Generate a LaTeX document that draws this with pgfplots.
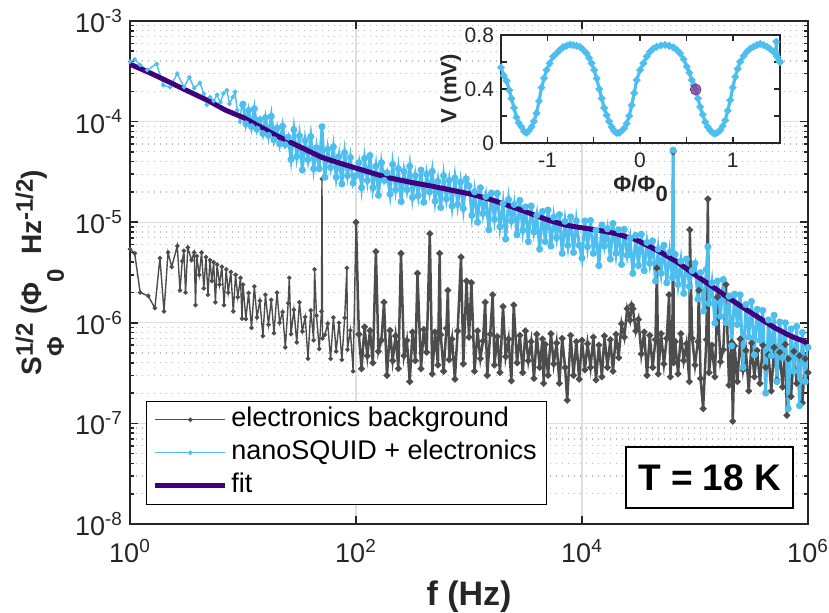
\documentclass[border=0pt]{standalone}
\usepackage{pgfplots}
\pgfplotsset{compat=1.18}
\usepackage{fontspec}
\setmainfont{Liberation Sans}

\definecolor{bggray}{RGB}{77,77,77}
\definecolor{sqblue}{RGB}{77,190,238}
\definecolor{fitpurple}{RGB}{63,0,125}
\definecolor{dotpurple}{RGB}{126,47,142}
\definecolor{axgray}{RGB}{38,38,38}
\definecolor{gridgray}{RGB}{222,222,222}

\begin{document}
\begin{tikzpicture}
\begin{axis}[
    at={(0,0)}, anchor=south west,
    scale only axis, width=339pt, height=251.5pt,
    xmode=log, ymode=log,
    xmin=1, xmax=1e6, ymin=1e-8, ymax=1e-3,
    xtick={1,100,10000,1000000},
    xticklabels={10\textsuperscript{0},10\textsuperscript{2},10\textsuperscript{4},10\textsuperscript{6}},
    minor xtick={},
    ytick={1e-8,1e-7,1e-6,1e-5,1e-4,1e-3},
    yticklabels={10\textsuperscript{-8},10\textsuperscript{-7},10\textsuperscript{-6},10\textsuperscript{-5},10\textsuperscript{-4},10\textsuperscript{-3}},
    minor ytick={2e-8,3e-8,4e-8,5e-8,6e-8,7e-8,8e-8,9e-8,
                 2e-7,3e-7,4e-7,5e-7,6e-7,7e-7,8e-7,9e-7,
                 2e-6,3e-6,4e-6,5e-6,6e-6,7e-6,8e-6,9e-6,
                 2e-5,3e-5,4e-5,5e-5,6e-5,7e-5,8e-5,9e-5,
                 2e-4,3e-4,4e-4,5e-4,6e-4,7e-4,8e-4,9e-4},
    xmajorgrids, ymajorgrids, yminorgrids,
    major grid style={gridgray, line width=0.6pt},
    minor grid style={gray!55, line width=0.6pt, dash pattern=on 0.6pt off 2.4pt},
    axis line style={axgray, line width=0.9pt},
    tick style={axgray, line width=0.8pt},
    major tick length=4pt, minor tick length=2pt,
    tick align=inside,
    tick label style={font=\fontsize{13.5}{15}\selectfont, text=axgray},
    xticklabel style={yshift=-4pt},
    label style={font=\bfseries, text=axgray},
    xlabel={\fontsize{17}{19}\selectfont f (Hz)},
    xlabel style={at={(axis description cs:0.5,-0.163)}, anchor=base},
    ylabel={\fontsize{14}{16}\selectfont S\rlap{\raisebox{4.5pt}{\fontsize{12}{12}\selectfont 1/2}}\raisebox{-11pt}{\fontsize{12}{12}\selectfont\makebox[16.5pt][l]{Φ}}\hspace{4.5pt}(Φ\raisebox{-11pt}{\fontsize{12}{12}\selectfont 0}\hspace{7pt}Hz\raisebox{4.5pt}{\fontsize{12}{12}\selectfont -1/2})},
    ylabel style={at={(axis description cs:-0.1298,0.5)}, anchor=base},
    legend image code/.code={\draw[mark repeat=2,mark phase=2,#1] plot coordinates {(0pt,0pt) (17.5pt,0pt) (35pt,0pt)};},
    legend style={at={(rel axis cs:0.024,0.038)}, anchor=south west,
        draw=black, line width=0.6pt, fill=white,
        font=\fontsize{13.5}{15}\selectfont,
        inner xsep=3pt, inner ysep=1pt,
        nodes={inner sep=1.75pt, text height=10pt, text depth=3pt}},
    legend cell align=left,
]
% electronics background, 1 - 100 Hz
\addplot[color=bggray, line width=0.7pt, mark=*, mark size=0.75pt] coordinates {
(1.0,5.4e-6)(1.1,4.9e-6)(1.23,2.0e-6)(1.45,1.85e-6)(1.66,1.4e-6)(1.84,4.4e-6)(2.0,1.3e-6)(2.17,5.0e-6)
(2.34,3.6e-6)(2.62,5.8e-6)(2.77,2.1e-6)(2.9,4.1e-6)(3.0,5.2e-6)(3.1,2.0e-6)(3.25,5.6e-6)(3.5,4.2e-6)
(3.7,5.0e-6)(3.8,1.5e-6)(3.9,4.6e-6)(4.1,3.0e-6)(4.3,5.0e-6)(4.5,2.2e-6)(4.7,4.5e-6)(4.9,1.9e-6)
(5.1,4.2e-6)(5.3,2.6e-6)(5.5,4.0e-6)(5.7,1.6e-6)(5.9,3.8e-6)(6.2,2.4e-6)(6.5,3.6e-6)(6.8,1.5e-6)
(7.1,3.4e-6)(7.4,2.0e-6)(7.8,3.2e-6)(8.2,1.3e-6)(8.6,3.0e-6)(9.0,1.8e-6)(9.5,2.8e-6)(9.8,1.1e-6)
(10.0,2.4e-6)(10.6,1.09e-6)(11.2,1.98e-6)(11.9,8.9e-7)(12.6,2.3e-6)(13.3,1.13e-6)(14.1,1.66e-6)(15.0,7.4e-7)
(15.8,1.9e-6)(16.8,9.6e-7)(17.8,1.69e-6)(18.8,7.9e-7)(20.0,2.0e-6)(21.1,1.0e-6)(22.4,1.28e-6)(23.7,5.7e-7)
(25.1,1.57e-6)(25.7,2.8e-6)(26.6,7.7e-7)(28.2,1.35e-6)(29.9,6.4e-7)(31.6,1.6e-6)(33.5,8.2e-7)(35.5,1.14e-6)
(37.6,4.4e-7)(39.8,1.33e-6)(42.2,6.7e-7)(43.0,3.4e-6)(44.7,1.18e-6)(47.3,5.5e-7)(49.5,1.3e-6)(50.0,2.7e-5)
(50.6,7.0e-7)(53.1,7.6e-7)(56.2,9.8e-7)(59.6,4.4e-7)(63.1,1.13e-6)(66.8,5.2e-7)(70.8,1.0e-6)(75.0,4.3e-7)
(79.4,1.12e-6)(83.0,3.5e-6)(84.1,5.4e-7)(89.1,8.4e-7)(94.4,3.3e-7)(100,1.0e-5)
};
\addlegendentry{electronics background}
% electronics background, 100 Hz - 1 MHz (dense part)
\addplot[forget plot, color=bggray, line width=1.25pt, mark=*, mark size=0.95pt] coordinates {
(100,1.0e-5)(106,7.7e-7)(112,3.5e-7)
(119,9.1e-7)(126,4.7e-7)(133,8.4e-7)(141,4.0e-7)(150,5.1e-6)(158,5.2e-7)(168,6.7e-7)(177,1.6e-6)
(188,3.0e-7)(200,8.4e-7)(211,4.2e-7)(224,7.4e-7)(237,3.5e-7)(250,4.9e-6)(266,4.7e-7)(282,6.7e-7)
(299,2.6e-7)(316,8.1e-7)(335,4.2e-7)(350,3.1e-6)(376,3.5e-7)(398,8.6e-7)(422,5.1e-7)(450,7.7e-6)
(473,3.1e-7)(501,8.1e-7)(531,3.8e-7)(550,4.9e-6)(562,7.6e-7)(596,3.3e-7)(631,8.8e-7)(650,2.1e-6)
(668,4.3e-7)(708,6.9e-7)(750,2.75e-7)(794,8.3e-7)(850,4.5e-6)(891,3.9e-7)(950,2.6e-6)(1000,7.2e-7)
(1050,2.5e-6)(1120,3.3e-7)(1190,8.3e-7)(1260,4.4e-7)(1330,6.6e-7)(1390,1.6e-6)(1450,3.0e-7)(1540,7.7e-7)
(1620,1.9e-6)(1680,3.8e-7)(1780,7.3e-7)(1880,3.2e-7)(2000,1.45e-6)(2110,4.6e-7)(2240,6.9e-7)(2370,2.65e-7)
(2490,1.5e-6)(2660,4.0e-7)(2820,7.5e-7)(2990,3.2e-7)(3160,8.3e-7)(3350,4.2e-7)(3550,6.5e-7)(3760,2.8e-7)
(3980,7.7e-7)(4220,3.6e-7)(4470,6.9e-7)(4580,2.5e-7)(4730,6.1e-7)(5010,3.0e-7)(5310,7.8e-7)(5620,3.9e-7)
(5960,6.3e-7)(6310,2.5e-7)(6680,7.0e-7)(7080,3.6e-7)(7400,1.7e-7)(7940,7.5e-7)(8410,3.0e-7)(8910,6.5e-7)
(9440,2.75e-7)(10000,6.7e-7)(10600,3.4e-7)(11200,6.2e-7)(11900,3.6e-7)(12600,7.2e-7)(13300,2.7e-7)(14100,6.0e-7)
(15000,2.9e-7)(15800,7.4e-7)(16800,3.6e-7)(17800,6.8e-7)(18800,3.3e-7)(20000,7.7e-7)(21100,4.5e-7)(22400,9.8e-7)
(23700,7.2e-7)(25100,1.38e-6)(26600,1.06e-6)(27500,1.5e-6)(28200,1.38e-6)(29900,8.3e-7)(31600,1.08e-6)(33500,4.9e-7)
(35500,8.1e-7)(37600,3.0e-7)(39800,7.5e-7)(42200,3.6e-7)(44700,6.8e-7)(46000,3.5e-6)(47300,3.1e-7)(50100,7.8e-7)
(53100,3.9e-7)(56200,7.0e-7)(59000,1.9e-6)(60500,2.9e-7)(63100,6.8e-7)(64000,5.0e-5)(64800,4.0e-7)(66800,6.5e-7)
(70800,3.1e-7)(75000,7.8e-7)(79400,4.2e-7)(84100,6.2e-7)(89100,2.6e-7)(90000,8.4e-6)(94400,7.0e-7)(100000,3.8e-7)
(106000,6.5e-7)(108000,2.1e-6)(112000,2.8e-7)(118000,1.4e-7)(126000,6.8e-7)(130000,1.7e-5)(133000,3.2e-7)(141000,6.0e-7)
(150000,2.9e-7)(158000,1.8e-6)(168000,4.1e-7)(178000,5.4e-7)(188000,2.4e-6)(200000,2.4e-7)(211000,6.4e-7)(216000,1.05e-7)
(224000,5.9e-7)(237000,2.6e-7)(251000,6.9e-7)(266000,3.4e-7)(282000,5.3e-7)(299000,2.1e-7)(316000,6.3e-7)(335000,2.9e-7)
(355000,5.3e-7)(376000,2.5e-7)(398000,6.0e-7)(422000,3.6e-7)(447000,4.8e-7)(473000,2.1e-7)(501000,5.7e-7)(531000,2.7e-7)
(562000,5.1e-7)(596000,2.3e-7)(631000,6.1e-7)(650000,1.2e-7)(668000,4.4e-7)(708000,1.85e-7)(750000,5.2e-7)(794000,2.5e-7)
(841000,4.7e-7)(891000,1.6e-7)(944000,4.4e-7)(1000000,3.2e-7)
};
% nanoSQUID + electronics, 1 - 10 Hz
\addplot[color=sqblue, line width=0.7pt, mark=*, mark size=0.75pt] coordinates {
(1.0,3.94e-4)(1.1,4.16e-4)(1.23,3.65e-4)(1.42,3.26e-4)(1.72,3.74e-4)(1.97,2.3e-4)(2.26,2.2e-4)(2.62,3.0e-4)
(3.0,2.2e-4)(3.35,2.76e-4)(3.7,2.15e-4)(4.16,2.43e-4)(4.5,1.9e-4)(4.78,1.47e-4)(5.1,1.75e-4)(5.5,1.6e-4)
(5.9,1.85e-4)(6.3,1.55e-4)(6.7,1.9e-4)(7.2,2.05e-4)(7.6,1.5e-4)(8.1,1.75e-4)(8.5,1.98e-4)(8.9,1.3e-4)
(9.4,1.0e-4)(9.7,1.45e-4)(10.0,1.49e-4)
};
\addlegendentry{nanoSQUID + electronics}
% nanoSQUID + electronics, 10 Hz - 1 MHz (dense part)
\addplot[forget plot, color=sqblue, line width=1.45pt, mark=*, mark size=1pt] coordinates {
(10.0,1.49e-4)(10.6,9.5e-5)(11.2,1.29e-4)(11.9,8.9e-5)(12.6,1.34e-4)(13.3,8.4e-5)(14.1,1.04e-4)(15.0,7.6e-5)
(15.8,1.09e-4)(16.8,7.3e-5)(17.8,1.13e-4)(18.8,6.6e-5)(20.0,8.6e-5)(21.1,6.0e-5)(22.4,9.0e-5)(23.7,5.9e-5)
(25.1,7.0e-5)(26.6,4.2e-5)(28.2,8.3e-5)(29.9,4.5e-5)(31.6,7.2e-5)(33.5,3.3e-5)(35.5,6.5e-5)(37.6,4.2e-5)
(39.8,7.1e-5)(42.2,3.4e-5)(44.7,5.5e-5)(47.3,3.4e-5)(50.0,8.9e-5)(53.1,2.8e-5)(56.2,5.3e-5)(59.6,3.5e-5)
(63.1,5.6e-5)(66.8,2.8e-5)(70.8,4.5e-5)(75.0,2.4e-5)(79.4,4.9e-5)(84.1,2.9e-5)(89.1,4.4e-5)(94.4,2.45e-5)
(100,2.9e-5)(106,3.9e-5)(112,2.2e-5)(119,4.3e-5)(126,2.6e-5)(133,4.6e-5)(141,2.2e-5)(150,3.6e-5)
(158,1.85e-5)(168,3.9e-5)(178,2.6e-5)(188,3.1e-5)(200,1.9e-5)(211,3.75e-5)(224,2.1e-5)(237,3.4e-5)
(251,1.6e-5)(266,3.2e-5)(282,2.1e-5)(299,3.6e-5)(316,1.76e-5)(335,2.9e-5)(355,1.84e-5)(376,3.3e-5)
(398,1.58e-5)(422,3.0e-5)(447,2.0e-5)(473,3.2e-5)(501,1.62e-5)(531,2.55e-5)(562,1.4e-5)(596,2.9e-5)
(631,1.7e-5)(668,2.6e-5)(708,1.45e-5)(750,2.75e-5)(794,1.5e-5)(841,2.5e-5)(891,1.37e-5)(944,2.7e-5)
(1000,2.3e-5)(1060,1.17e-5)(1120,2.0e-5)(1190,1.0e-5)(1260,2.2e-5)(1330,1.22e-5)(1410,1.8e-5)(1500,8.4e-6)
(1580,1.95e-5)(1680,1.07e-5)(1780,1.94e-5)(1880,9.0e-6)(2000,1.53e-5)(2110,6.8e-6)(2240,1.68e-5)(2370,1.03e-5)
(2510,1.5e-5)(2660,7.5e-6)(2820,1.65e-5)(2990,8.3e-6)(3160,1.42e-5)(3350,6.4e-6)(3550,1.45e-5)(3760,8.0e-6)
(3980,1.17e-5)(4220,5.4e-6)(4470,1.28e-5)(4730,6.4e-6)(5010,1.32e-5)(5310,5.8e-6)(5620,1.12e-5)(5960,7.0e-6)
(6310,1.19e-5)(6680,4.9e-6)(7080,1.02e-5)(7500,5.9e-6)(7940,1.13e-5)(8410,5.0e-6)(8910,1.03e-5)(9440,5.9e-6)
(10000,4.4e-6)(10600,1.03e-5)(11200,5.7e-6)(11900,1.04e-5)(12600,4.9e-6)(13300,8.3e-6)(14100,3.7e-6)(15000,9.4e-6)
(15800,5.8e-6)(16800,8.6e-6)(17800,4.3e-6)(18800,9.7e-6)(20000,4.9e-6)(21100,8.4e-6)(22400,3.8e-6)(23700,8.5e-6)
(25100,4.7e-6)(26600,6.9e-6)(28200,3.1e-6)(29900,7.4e-6)(31600,3.7e-6)(33500,7.6e-6)(35500,3.3e-6)(37600,6.3e-6)
(39800,3.9e-6)(42200,6.5e-6)(44700,2.6e-6)(47300,5.4e-6)(50100,3.1e-6)(53100,5.9e-6)(56200,2.5e-6)(59600,5.0e-6)
(63100,2.8e-6)(64000,5.2e-5)(64800,3.0e-6)(66800,4.8e-6)(70800,2.4e-6)(75000,4.1e-6)(79400,1.96e-6)(84100,4.3e-6)
(89100,2.3e-6)(94400,3.3e-6)(100000,3.9e-6)(106000,1.72e-6)(112000,3.15e-6)(119000,1.31e-6)(126000,3.4e-6)(130000,5.7e-6)
(133000,1.56e-6)(141000,2.5e-6)(150000,9.9e-7)(158000,2.6e-6)(168000,1.16e-6)(178000,2.7e-6)(188000,1.0e-6)(200000,1.84e-6)
(211000,5.9e-7)(224000,1.93e-6)(237000,9.6e-7)(251000,1.9e-6)(266000,3.6e-7)(282000,1.52e-6)(299000,7.2e-7)(316000,1.63e-6)
(335000,4.8e-7)(355000,1.36e-6)(376000,6.7e-7)(398000,1.33e-6)(422000,2.0e-7)(447000,1.07e-6)(473000,4.7e-7)(501000,1.19e-6)
(531000,2.6e-7)(562000,1.02e-6)(596000,4.5e-7)(631000,1.0e-6)(668000,1.4e-7)(708000,8.7e-7)(750000,3.3e-7)(794000,9.2e-7)
(841000,1.5e-7)(891000,8.0e-7)(944000,2.6e-7)(1000000,5.7e-7)
};
% fit
\addplot[color=fitpurple, line width=2.5pt] coordinates {
(1,3.72e-4)(1.5,3.05e-4)(2,2.62e-4)(3,2.10e-4)(5,1.60e-4)(7,1.30e-4)(10,1.10e-4)(15,8.6e-5)
(20,7.2e-5)(30,5.8e-5)(50,4.4e-5)(70,3.9e-5)(100,3.45e-5)(150,3.0e-5)(200,2.75e-5)(300,2.5e-5)
(500,2.25e-5)(700,2.08e-5)(1000,1.92e-5)(1500,1.70e-5)(2000,1.53e-5)(3000,1.30e-5)(5000,1.05e-5)(7000,9.4e-6)
(10000,8.8e-6)(15000,8.2e-6)(20000,7.7e-6)(30000,6.7e-6)(40000,5.7e-6)(50000,5.0e-6)(70000,4.0e-6)(100000,3.0e-6)
(150000,2.2e-6)(200000,1.75e-6)(300000,1.30e-6)(500000,9.0e-7)(700000,7.4e-7)(1000000,6.3e-7)
};
\addlegendentry{fit}
\node[draw=black, line width=0.8pt, fill=white, font=\bfseries\fontsize{18.5}{20}\selectfont,
      inner xsep=6pt, minimum height=30.5pt] at (rel axis cs:0.855,0.0924) {T = 18 K};
\end{axis}

% inset: V vs flux
\begin{axis}[
    at={(185.5pt,190.5pt)}, anchor=south west,
    scale only axis, width=139.5pt, height=54pt,
    xmin=-1.5, xmax=1.51, ymin=0, ymax=0.8,
    xtick={-1,-0.5,0,0.5,1}, xticklabels={-1,,0,,1},
    ytick={0,0.2,0.4,0.6,0.8}, yticklabels={0,,0.4,,0.8},
    axis background/.style={fill=white},
    axis line style={axgray, line width=0.9pt},
    tick style={axgray, line width=0.8pt},
    major tick length=3pt, tick align=inside,
    tick label style={font=\fontsize{10.5}{12}\selectfont, text=axgray},
    xticklabel style={yshift=-1.5pt},
    label style={font=\bfseries\fontsize{11}{12}\selectfont, text=axgray},
    xlabel={Φ/Φ\raisebox{-5pt}{0}}, ylabel={V (mV)},
    xlabel style={yshift=3pt},
    ylabel style={at={(axis description cs:-0.18,0.5)}, anchor=center},
]
\addplot[color=sqblue, line width=1.6pt, mark=*, mark size=0.9pt] coordinates {
(-1.50,0.56)(-1.47,0.50)(-1.44,0.46)(-1.41,0.39)(-1.387,0.33)(-1.36,0.26)(-1.333,0.19)(-1.31,0.15)
(-1.28,0.12)(-1.25,0.085)(-1.225,0.075)(-1.20,0.09)(-1.17,0.12)(-1.145,0.16)(-1.117,0.22)(-1.09,0.31)
(-1.063,0.41)(-1.035,0.48)(-1.009,0.54)(-0.975,0.59)(-0.937,0.64)(-0.90,0.665)(-0.865,0.69)(-0.83,0.71)
(-0.793,0.72)(-0.755,0.728)(-0.72,0.724)(-0.685,0.72)(-0.649,0.713)(-0.613,0.69)(-0.577,0.664)(-0.55,0.63)
(-0.523,0.59)(-0.495,0.54)(-0.468,0.478)(-0.44,0.40)(-0.414,0.33)(-0.387,0.26)(-0.36,0.206)(-0.333,0.16)
(-0.306,0.119)(-0.28,0.09)(-0.252,0.074)(-0.225,0.075)(-0.198,0.089)(-0.17,0.11)(-0.144,0.144)(-0.117,0.20)
(-0.09,0.28)(-0.063,0.37)(-0.036,0.466)(0.0,0.54)(0.036,0.59)(0.072,0.64)(0.108,0.676)(0.144,0.70)
(0.18,0.713)(0.225,0.722)(0.27,0.726)(0.315,0.72)(0.36,0.708)(0.396,0.69)(0.432,0.664)(0.47,0.62)
(0.505,0.565)(0.532,0.52)(0.559,0.466)(0.58,0.43)(0.60,0.396)(0.625,0.33)(0.649,0.267)(0.676,0.21)
(0.703,0.156)(0.73,0.12)(0.757,0.094)(0.784,0.075)(0.811,0.069)(0.838,0.078)(0.865,0.094)(0.892,0.125)
(0.919,0.168)(0.946,0.24)(0.973,0.317)(1.0,0.41)(1.027,0.49)(1.054,0.55)(1.081,0.602)(1.117,0.645)
(1.153,0.676)(1.19,0.70)(1.225,0.713)(1.26,0.725)(1.297,0.733)(1.333,0.725)(1.369,0.713)(1.405,0.695)
(1.441,0.676)(1.465,0.66)(1.47,0.75)(1.477,0.64)(1.50,0.61)(1.51,0.60)
};
\addplot[only marks, mark=*, mark size=2.7pt, draw=dotpurple, fill=dotpurple, fill opacity=0.7] coordinates {(0.60,0.396)};
\end{axis}

\pgfresetboundingbox
\path[use as bounding box] (-65pt,-44.5pt) rectangle (349.5pt,262pt);
\end{tikzpicture}
\end{document}
